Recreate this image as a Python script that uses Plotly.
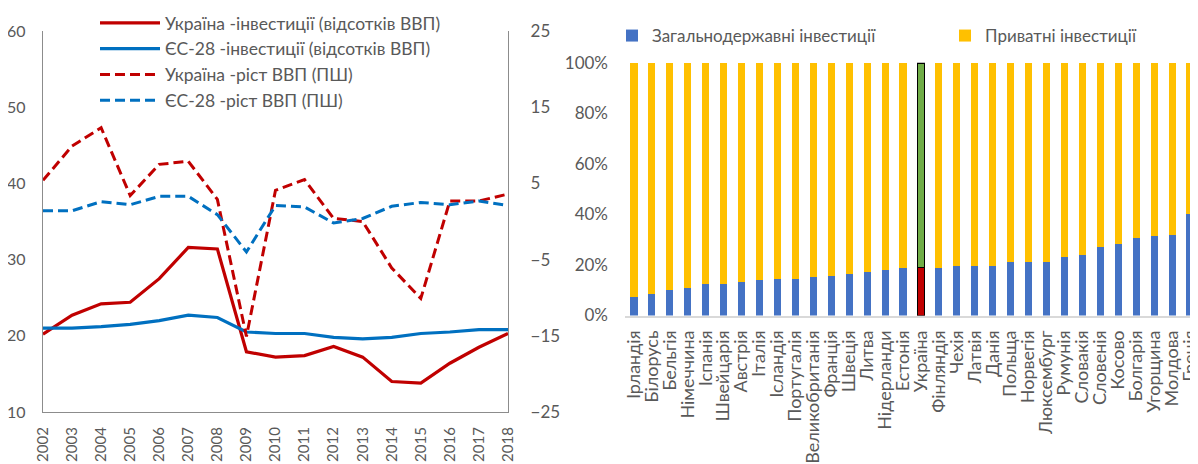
import plotly.graph_objects as go

# ---------------- data: left chart ----------------
years = [str(y) for y in range(2002, 2019)]
ua_inv = [20.2, 22.7, 24.2, 24.4, 27.5, 31.6, 31.4, 17.9, 17.2, 17.4, 18.6, 17.2, 14.0, 13.8, 16.4, 18.5, 20.3]
eu_inv = [21.0, 21.0, 21.2, 21.5, 22.0, 22.7, 22.4, 20.5, 20.3, 20.3, 19.8, 19.6, 19.8, 20.3, 20.5, 20.8, 20.8]
ua_gdp = [5.4, 9.9, 12.3, 3.4, 7.5, 7.9, 2.9, -15.1, 4.1, 5.5, 0.4, 0.0, -6.1, -10.1, 2.7, 2.7, 3.6]
eu_gdp = [1.4, 1.4, 2.6, 2.2, 3.3, 3.3, 0.9, -4.0, 2.1, 1.9, -0.2, 0.4, 2.0, 2.5, 2.2, 2.7, 2.1]

left_names = [
    "Україна -інвестиції (відсотків ВВП)",
    "ЄС-28 -інвестиції (відсотків ВВП)",
    "Україна -ріст ВВП (ПШ)",
    "ЄС-28 -ріст ВВП (ПШ)",
]
left_ticks_y = [10, 20, 30, 40, 50, 60]
right_ticks_y = [-25, -15, -5, 5, 15, 25]

# ---------------- data: right chart ----------------
countries = ["Ірландія", "Білорусь", "Бельгія", "Німеччина", "Іспанія", "Швейцарія", "Австрія",
             "Італія", "Ісландія", "Португалія", "Великобританія", "Франція", "Швеція", "Литва",
             "Нідерланди", "Естонія", "Україна", "Фінляндія", "Чехія", "Латвія", "Данія", "Польща",
             "Норвегія", "Люксембург", "Румунія", "Словакія", "Словенія", "Косово", "Болгарія",
             "Угорщина", "Молдова", "Греція"]
public_share = [7.2, 8.7, 10.1, 10.8, 12.3, 12.3, 13.1, 13.9, 14.5, 14.5, 15.1, 15.8, 16.6, 17.4,
                18.1, 18.8, 19.0, 18.8, 19.5, 19.6, 19.6, 21.0, 21.0, 21.0, 23.3, 23.9, 27.0, 28.3,
                30.6, 31.4, 32.0, 40.0]
private_share = [round(100 - v, 1) for v in public_share]
bar_names = ["Загальнодержавні інвестиції", "Приватні інвестиції"]
highlight = "Україна"

RED = "#C00000"
BLUE = "#0070C0"
BAR_BLUE = "#4472C4"
BAR_YEL = "#FFC000"
GREEN = "#70AD47"
TXT = "#595959"
AX = "#8C8C8C"

W, H = 1198, 464
OFF = 8  # default page body margin


def fx(px):
    return (px - OFF) / W


def fy(px):
    return (H - (px - OFF)) / H


fig = go.Figure()
fig.add_trace(go.Scatter(x=years, y=ua_inv, name=left_names[0], mode="lines",
                         line=dict(color=RED, width=3.2), xaxis="x", yaxis="y", legend="legend"))
fig.add_trace(go.Scatter(x=years, y=eu_inv, name=left_names[1], mode="lines",
                         line=dict(color=BLUE, width=3.2), xaxis="x", yaxis="y", legend="legend"))
fig.add_trace(go.Scatter(x=years, y=ua_gdp, name=left_names[2], mode="lines",
                         line=dict(color=RED, width=3, dash="10px,5px"), xaxis="x", yaxis="y2", legend="legend"))
fig.add_trace(go.Scatter(x=years, y=eu_gdp, name=left_names[3], mode="lines",
                         line=dict(color=BLUE, width=3, dash="10px,5px"), xaxis="x", yaxis="y2", legend="legend"))

pub_colors = [RED if c == highlight else BAR_BLUE for c in countries]
priv_colors = [GREEN if c == highlight else BAR_YEL for c in countries]
line_w = [1.6 if c == highlight else 0 for c in countries]

fig.add_trace(go.Bar(x=countries, y=public_share, name=bar_names[0],
                     marker=dict(color=pub_colors, line=dict(color="black", width=line_w)),
                     xaxis="x2", yaxis="y3", legend="legend2"))
fig.add_trace(go.Bar(x=countries, y=private_share, name=bar_names[1],
                     marker=dict(color=priv_colors, line=dict(color="black", width=line_w)),
                     xaxis="x2", yaxis="y3", legend="legend3"))

fig.update_layout(
    width=W, height=H,
    margin=dict(l=0, r=0, t=0, b=0, autoexpand=False),
    paper_bgcolor="white", plot_bgcolor="white",
    font=dict(family="Lato", size=16, color=TXT),
    barmode="stack", bargap=0.6,
    showlegend=True,
    xaxis=dict(domain=[fx(43), fx(508)], anchor="y", type="category",
               tickangle=-90, showline=True, linecolor=AX, linewidth=1.3,
               showgrid=False, zeroline=False, ticks="", ticklabelstandoff=8,
               tickmode="array", tickvals=years, ticktext=years,
               tickfont=dict(size=15, color=TXT)),
    yaxis=dict(domain=[fy(412), fy(31)], anchor="x", range=[10, 60], tickvals=left_ticks_y,
               showline=True, linecolor=AX, linewidth=1.3, showgrid=False, zeroline=False,
               ticks="", ticklabelstandoff=13, tickfont=dict(size=16, color=TXT)),
    yaxis2=dict(overlaying="y", side="right", anchor="x", range=[-25, 25], tickvals=right_ticks_y,
                showline=True, linecolor=AX, linewidth=1.3, showgrid=False, zeroline=False,
                ticks="", ticklabelstandoff=18, tickfont=dict(size=17, color=TXT)),
    xaxis2=dict(domain=[fx(625), fx(1199)], anchor="y3", type="category", tickangle=-90,
                showline=True, linecolor="#D9D9D9", linewidth=1.5, showgrid=False,
                zeroline=False, ticks="", ticklabelstandoff=6,
                tickmode="array", tickvals=countries, ticktext=countries,
                tickfont=dict(size=18, color=TXT)),
    yaxis3=dict(domain=[fy(315.5), fy(62.7)], anchor="x2", range=[0, 100], dtick=20,
                ticksuffix="%", showline=False, showgrid=False, zeroline=False, ticks="",
                ticklabelstandoff=16, tickfont=dict(size=17, color=TXT)),
    legend=dict(x=fx(95), y=fy(5), xanchor="left", yanchor="top", itemwidth=60,
                orientation="v", bgcolor="rgba(0,0,0,0)", font=dict(size=17.5, color=TXT),
                traceorder="normal"),
    legend2=dict(x=fx(612), y=fy(18), xanchor="left", yanchor="top",
                 orientation="v", bgcolor="rgba(0,0,0,0)", font=dict(size=17, color=TXT)),
    legend3=dict(x=fx(945), y=fy(18), xanchor="left", yanchor="top",
                 orientation="v", bgcolor="rgba(0,0,0,0)", font=dict(size=17, color=TXT)),
)

fig.write_html("out.html")
